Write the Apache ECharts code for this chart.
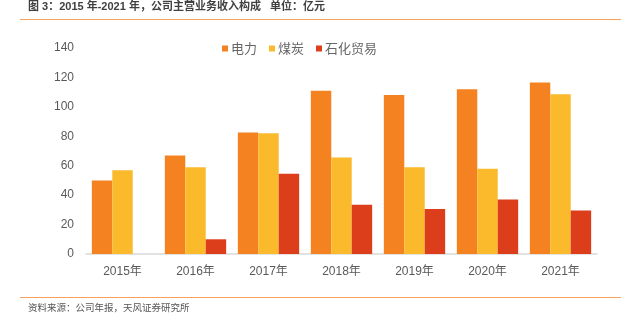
<!DOCTYPE html>
<html>
<head>
<meta charset="utf-8">
<script src="https://cdn.jsdelivr.net/npm/echarts@6/dist/echarts.min.js"></script>
<style>
  html, body { margin: 0; padding: 0; background: #fff; }
  #chart { width: 621px; height: 323px; }
</style>
</head>
<body>
<div id="chart"></div>
<script>
// Revenue breakdown by business line, 2015–2021 (unit: 100 million yuan)
const years = ['2015年', '2016年', '2017年', '2018年', '2019年', '2020年', '2021年'];
const power = [50, 67, 82.5, 111, 108, 112, 116.5];
const coal = [57, 59, 82, 65.5, 59, 58, 108.5];
const petroTrade = [null, 10, 54.5, 33.5, 30.5, 37, 29.5];
const yTicks = [0, 20, 40, 60, 80, 100, 120, 140];

const colors = ['#F58220', '#FABA2C', '#DC3D1A'];
const textColor = '#595959';
const fontFamily = '"Liberation Sans", "Noto Sans CJK SC", sans-serif';
const cjkFont = '"Noto Sans CJK SC", "Liberation Sans", sans-serif';
const titleFont = '"Liberation Sans Narrow", "Liberation Sans", "Noto Sans CJK SC", sans-serif';

const chart = echarts.init(document.getElementById('chart'), null, { renderer: 'canvas' });

chart.setOption({
  animation: false,
  color: colors,
  textStyle: { fontFamily: fontFamily },
  graphic: [
    {
      type: 'text', left: 28, top: 1,
      style: {
        text: '图 3：2015 年-2021 年，公司主营业务收入构成   单位：亿元',
        fill: '#3f3f3f', font: 'bold 11px ' + titleFont
      }
    },
    {
      type: 'line', shape: { x1: 20, y1: 19.5, x2: 621, y2: 19.5 },
      style: { stroke: '#F6A25E', lineWidth: 1.2 }
    },
    {
      type: 'line', shape: { x1: 20, y1: 297.5, x2: 621, y2: 297.5 },
      style: { stroke: '#F6A25E', lineWidth: 1.2 }
    },
    {
      type: 'text', left: 28, top: 303,
      style: {
        text: '资料来源：公司年报，天风证券研究所',
        fill: '#555555', font: '9.5px ' + cjkFont
      }
    }
  ],
  legend: {
    top: 37, left: 217,
    itemWidth: 6, itemHeight: 6, itemGap: 12,
    icon: 'rect',
    textStyle: { color: '#666666', fontSize: 13, fontFamily: cjkFont, padding: [0, 0, 0, -2] },
    data: ['电力', '煤炭', '石化贸易']
  },
  grid: { left: 86, right: 24, top: 48, bottom: 69, containLabel: false },
  xAxis: {
    type: 'category',
    data: years,
    axisLine: { lineStyle: { color: '#d9d9d9', width: 1.5 } },
    axisTick: { show: false },
    axisLabel: { color: textColor, fontSize: 12, margin: 12 }
  },
  yAxis: {
    type: 'value',
    min: yTicks[0], max: yTicks[yTicks.length - 1], interval: 20,
    axisLine: { show: false },
    axisTick: { show: false },
    splitLine: { show: false },
    axisLabel: { color: textColor, fontSize: 12, margin: 12 }
  },
  series: [
    { name: '电力', type: 'bar', data: power, barGap: '0%', barCategoryGap: '16%' },
    { name: '煤炭', type: 'bar', data: coal, barGap: '0%', barCategoryGap: '16%' },
    { name: '石化贸易', type: 'bar', data: petroTrade, barGap: '0%', barCategoryGap: '16%' }
  ]
});
</script>
</body>
</html>
